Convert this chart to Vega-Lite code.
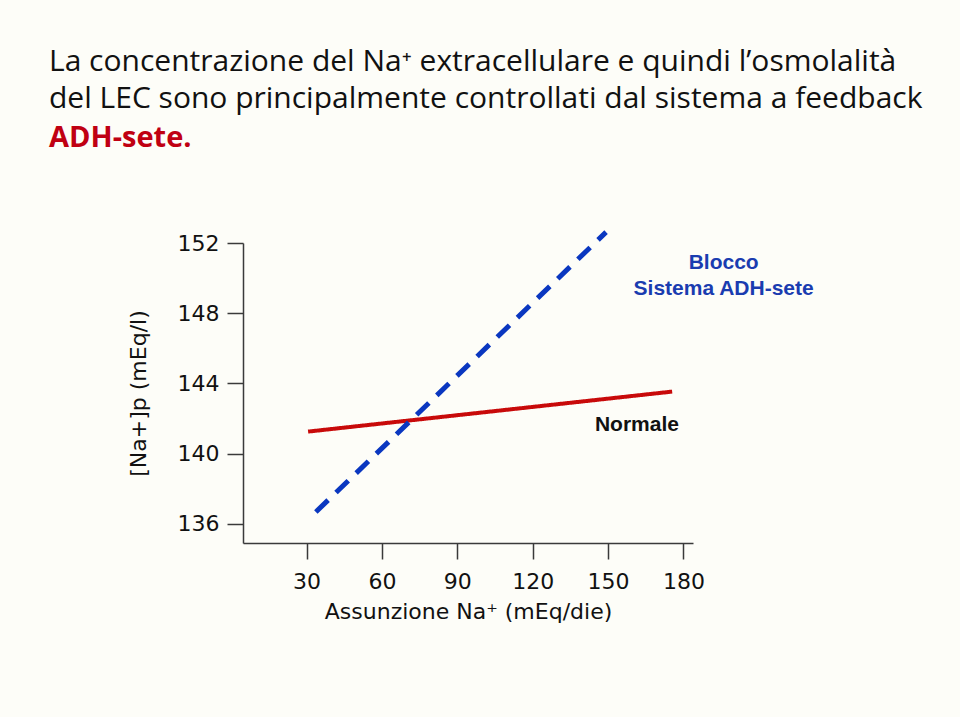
{
  "$schema": "https://vega.github.io/schema/vega-lite/v6.json",
  "width": 450,
  "height": 300,
  "autosize": {"type": "none"},
  "padding": {"left": 243, "top": 243, "right": 267, "bottom": 174},
  "background": "#fdfdf8",
  "config": {"view": {"stroke": null}},
  "title": {
    "text": ["La concentrazione del Na⁺ extracellulare e quindi l’osmolalità", "del LEC sono principalmente controllati dal sistema a feedback"],
    "subtitle": "ADH-sete.",
    "anchor": "start",
    "frame": "group",
    "dx": -194,
    "offset": 69,
    "font": "Open Sans",
    "fontSize": 30,
    "fontWeight": "normal",
    "color": "#111111",
    "lineHeight": 37,
    "subtitleFont": "Open Sans",
    "subtitleFontSize": 29,
    "subtitleFontWeight": "bold",
    "subtitleColor": "#c00012",
    "subtitlePadding": 10
  },
  "datasets": {
    "lines": [
      {"serie": "Normale", "x": 30.6, "y": 141.25},
      {"serie": "Normale", "x": 175.5, "y": 143.53},
      {"serie": "Blocco", "x": 33.7, "y": 136.67},
      {"serie": "Blocco", "x": 149.2, "y": 152.62}
    ],
    "notes": [
      {"label": "Blocco", "x": 196, "y": 150.85, "kind": "blu"},
      {"label": "Sistema ADH-sete", "x": 196, "y": 149.36, "kind": "blu"},
      {"label": "Normale", "x": 161.5, "y": 141.65, "kind": "nero"}
    ]
  },
  "layer": [
    {
      "data": {"name": "lines"},
      "mark": {"type": "line", "clip": false},
      "encoding": {
        "x": {
          "field": "x", "type": "quantitative",
          "scale": {"domain": [4.7, 183.8], "nice": false, "zero": false},
          "axis": {
            "values": [30, 60, 90, 120, 150, 180],
            "grid": false,
            "domainColor": "#3a3a3a", "domainWidth": 1.5,
            "tickColor": "#3a3a3a", "tickWidth": 1.5, "tickSize": 16,
            "labelFont": "DejaVu Sans", "labelFontSize": 22, "labelColor": "#111111", "labelPadding": 12,
            "title": "Assunzione Na⁺ (mEq/die)",
            "titleFont": "DejaVu Sans", "titleFontSize": 22, "titleFontWeight": "normal", "titleColor": "#111111", "titlePadding": 9
          }
        },
        "y": {
          "field": "y", "type": "quantitative",
          "scale": {"domain": [134.9, 152], "nice": false, "zero": false},
          "axis": {
            "values": [136, 140, 144, 148, 152],
            "grid": false,
            "domainColor": "#3a3a3a", "domainWidth": 1.5,
            "tickColor": "#3a3a3a", "tickWidth": 1.5, "tickSize": 16,
            "labelFont": "DejaVu Sans", "labelFontSize": 22, "labelColor": "#111111", "labelPadding": 8,
            "title": "[Na+]p (mEq/l)",
            "titleFont": "DejaVu Sans", "titleFontSize": 22, "titleFontWeight": "normal", "titleColor": "#111111", "titlePadding": 27
          }
        },
        "detail": {"field": "serie"},
        "color": {"field": "serie", "type": "nominal", "scale": {"domain": ["Normale", "Blocco"], "range": ["#c80a0a", "#0a37c0"]}, "legend": null},
        "strokeDash": {"field": "serie", "type": "nominal", "scale": {"domain": ["Normale", "Blocco"], "range": [[1, 0], [17, 11]]}, "legend": null},
        "strokeWidth": {"field": "serie", "type": "nominal", "scale": {"domain": ["Normale", "Blocco"], "range": [4, 5]}, "legend": null}
      }
    },
    {
      "data": {"name": "notes"},
      "transform": [{"filter": "datum.kind === 'blu'"}],
      "mark": {"type": "text", "font": "Liberation Sans", "fontSize": 21, "fontWeight": "bold", "color": "#1a3cb0", "align": "center", "baseline": "middle"},
      "encoding": {
        "x": {"field": "x", "type": "quantitative"},
        "y": {"field": "y", "type": "quantitative"},
        "text": {"field": "label"}
      }
    },
    {
      "data": {"name": "notes"},
      "transform": [{"filter": "datum.kind === 'nero'"}],
      "mark": {"type": "text", "font": "Liberation Sans", "fontSize": 21, "fontWeight": "bold", "color": "#111111", "align": "center", "baseline": "middle"},
      "encoding": {
        "x": {"field": "x", "type": "quantitative"},
        "y": {"field": "y", "type": "quantitative"},
        "text": {"field": "label"}
      }
    }
  ]
}
